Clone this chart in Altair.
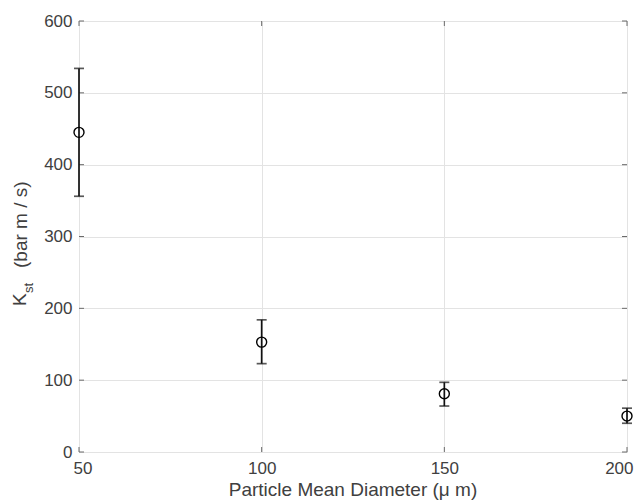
import altair as alt
import pandas as pd

diam = [50, 100, 150, 200]
kst = [445, 153, 81, 50]
kst_lo = [356, 123, 64, 40]
kst_hi = [534, 184, 97, 61]
x_ticks = [50, 100, 150, 200]
y_ticks = [0, 100, 200, 300, 400, 500, 600]

df = pd.DataFrame({"d": diam, "k": kst, "lo": kst_lo, "hi": kst_hi})
xt = pd.DataFrame({"v": x_ticks})
yt = pd.DataFrame({"v": y_ticks})

W, H = 548, 431
FONT = "Liberation Sans"
TXT = "#404040"
AX = "#6a6a6a"
TICK_FS = 17
TITLE_FS = 19

xs = alt.Scale(domain=[50, 200], nice=False, zero=False)
ys = alt.Scale(domain=[0, 600], nice=False)

xaxis = alt.Axis(values=x_ticks, grid=True, gridColor="#e3e3e3", domain=False, ticks=False,
                 labelFont=FONT, labelFontSize=TICK_FS, labelColor=TXT, labelPadding=8,
                 labelFlush=True, labelFlushOffset=6, title=None)
yaxis = alt.Axis(values=y_ticks, grid=True, gridColor="#e3e3e3", domain=False, ticks=False,
                 labelFont=FONT, labelFontSize=TICK_FS, labelColor=TXT, labelPadding=7, title=None)

base = alt.Chart(df)

grid = base.mark_point(opacity=0).encode(
    x=alt.X("d:Q", scale=xs, axis=xaxis),
    y=alt.Y("k:Q", scale=ys, axis=yaxis),
)

err = base.mark_errorbar(ticks={"size": 10, "thickness": 1.7, "color": "#111111"},
                         thickness=1.7, color="#111111").encode(
    x=alt.X("d:Q", scale=xs, title=None),
    y=alt.Y("lo:Q", scale=ys, title=None),
    y2="hi:Q",
)

pts = base.mark_point(shape="circle", filled=False, size=100, stroke="black",
                      strokeWidth=1.4, opacity=1).encode(
    x=alt.X("d:Q", scale=xs),
    y=alt.Y("k:Q", scale=ys),
)

tick_len = 5
xt_bot = alt.Chart(xt).mark_rule(color=AX, strokeWidth=1).encode(
    x=alt.X("v:Q", scale=xs), y=alt.value(H), y2=alt.value(H - tick_len))
xt_top = alt.Chart(xt).mark_rule(color=AX, strokeWidth=1).encode(
    x=alt.X("v:Q", scale=xs), y=alt.value(0), y2=alt.value(tick_len))
yt_left = alt.Chart(yt).mark_rule(color=AX, strokeWidth=1).encode(
    y=alt.Y("v:Q", scale=ys), x=alt.value(0), x2=alt.value(tick_len))
yt_right = alt.Chart(yt).mark_rule(color=AX, strokeWidth=1).encode(
    y=alt.Y("v:Q", scale=ys), x=alt.value(W), x2=alt.value(W - tick_len))

def label(txt, x, y, fs, angle=270, align="left", baseline="middle"):
    return alt.Chart(pd.DataFrame({"t": [txt]})).mark_text(
        angle=angle, align=align, baseline=baseline, font=FONT, fontSize=fs, color=TXT
    ).encode(text="t:N", x=alt.value(x), y=alt.value(y))

k_txt = label("K", -59, 285, TITLE_FS)
st_txt = label("st", -50, 272, 13)
unit_txt = label("(bar m / s)", -58, 247, TITLE_FS)
x_title = label("Particle Mean Diameter (\u03bc m)", W / 2, 475, TITLE_FS, angle=0,
                align="center", baseline="alphabetic")

chart = alt.layer(grid, xt_bot, xt_top, yt_left, yt_right, err, pts,
                  k_txt, st_txt, unit_txt, x_title).properties(
    width=W, height=H,
    autosize=alt.AutoSizeParams(type="none"),
    padding={"left": 71, "top": 13, "right": 7, "bottom": 48},
).configure_view(stroke=AX, strokeWidth=1).configure(background="white")

chart.save("out.html", embed_options={"renderer": "svg", "actions": False})
